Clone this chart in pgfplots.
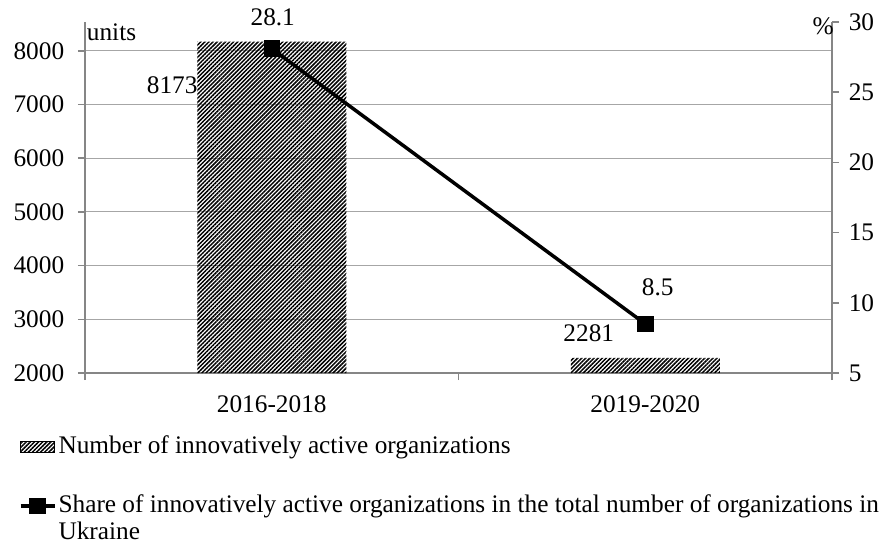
\documentclass[border=0pt]{standalone}
\usepackage{fontspec}
\setmainfont{Liberation Serif}
\usepackage{pgfplots}
\usepackage{pgfplotstable}
\pgfplotsset{compat=1.18}
\usetikzlibrary{patterns.meta}
\definecolor{axgray}{HTML}{868686}
\definecolor{gridgray}{HTML}{A6A6A6}

\pgfplotstableread{
x y dx dy
0 8173 -49.75 -22
1 2281 -28.25 12.5
}\bardata
\pgfplotstableread{
x y dx dy
0 28.1 0.5 15.5
1 8.5 6.25 18.5
}\sharedata

\tikzset{barpat/.style={pattern={Lines[angle=45,distance=1.45pt,line width=0.75pt]}}}

\begin{document}
\fontsize{12.65}{13.6}\selectfont
\begin{tikzpicture}
\useasboundingbox (-42.5pt,-84.5pt) rectangle (398.5pt,186.5pt);
\begin{axis}[
  at={(0,0)}, anchor=south west,
  scale only axis, width=373.5pt, height=175.5pt,
  xmin=-0.5, xmax=1.5,
  ymin=2000, ymax=8536,
  axis x line*=bottom, axis y line*=left,
  xtick pos=bottom, ytick pos=left,
  axis line style={axgray, line width=0.75pt},
  xtick={0,1}, xticklabels={2016-2018,2019-2020},
  major x tick style={draw=none},
  extra x ticks={-0.5,0.5,1.5}, extra x tick labels={},
  extra x tick style={major tick length=3.5pt, major x tick style={draw=axgray, line width=0.75pt}},
  ytick={2000,3000,...,8000},
  ymajorgrids, grid style={gridgray, line width=0.5pt},
  tick align=outside, major tick length=3.5pt,
  tick style={axgray, line width=0.75pt},
  xticklabel style={yshift=-3.5pt},
  yticklabel style={xshift=-2.5pt},
  /pgf/number format/1000 sep={}, /pgf/number format/assume math mode=true,
  clip=true,
]
\addplot[ybar, bar width=74.5pt, draw=none, barpat,
  nodes near coords, point meta=explicit,
  visualization depends on={\thisrow{dx}\as\dx},
  visualization depends on={\thisrow{dy}\as\dy},
  nodes near coords style={anchor=center, xshift=\dx pt, yshift=\dy pt, text=black}]
  table[x=x, y=y, meta=y] {\bardata};
\end{axis}
\begin{axis}[
  at={(0,0)}, anchor=south west,
  scale only axis, width=373.5pt, height=175.5pt,
  xmin=-0.5, xmax=1.5,
  ymin=5, ymax=30,
  axis x line=none, axis y line*=right, ytick pos=right,
  axis line style={axgray, line width=0.75pt},
  ytick={5,10,...,30},
  tick align=outside, major tick length=3.5pt,
  tick style={axgray, line width=0.75pt},
  yticklabel style={xshift=0.5pt},
  /pgf/number format/assume math mode=true,
  clip=false,
  legend style={draw=none, fill=none, at={(rel axis cs:-0.089,-0.1725)}, anchor=north west,
    inner sep=0pt, row sep=16.8pt, nodes={inner sep=1pt}, font=\fontsize{12.65}{13.2}\selectfont},
  legend cell align=left,
]
\addlegendimage{area legend, draw=none, barpat}
\addlegendentry{Number of innovatively active organizations}
\addplot[black, line width=1.75pt, mark=square*, mark size=3.25pt, mark options={solid},
  nodes near coords, point meta=explicit,
  visualization depends on={\thisrow{dx}\as\dx},
  visualization depends on={\thisrow{dy}\as\dy},
  nodes near coords style={anchor=center, xshift=\dx pt, yshift=\dy pt, text=black}]
  table[x=x, y=y, meta=y] {\sharedata};
\addlegendentry{\parbox[t]{412pt}{\raggedright Share of innovatively active organizations in the total number of organizations in\\ Ukraine}}
\node[anchor=center] at (rel axis cs:0.0355,0.9715) {units};
\node[anchor=center] at (rel axis cs:0.988,0.9886) {\%};
\end{axis}
\end{tikzpicture}
\end{document}
